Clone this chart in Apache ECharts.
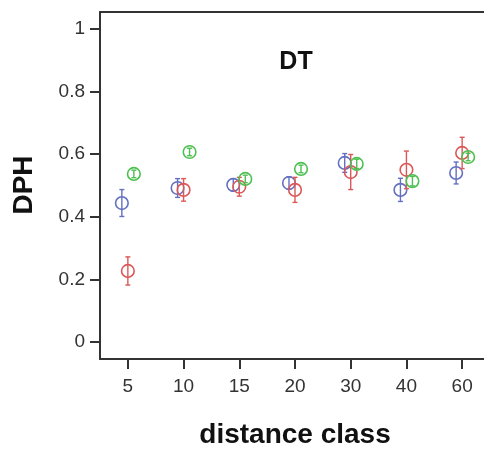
<!DOCTYPE html>
<html>
<head>
<meta charset="utf-8">
<script src="https://cdn.jsdelivr.net/npm/echarts@6/dist/echarts.min.js"></script>
<style>
  html, body { margin: 0; padding: 0; background: #fff; }
  #chart { width: 484px; height: 450px; }
</style>
</head>
<body>
<div id="chart"></div>
<script>
// Distance classes on the x axis
const categories = ['5', '10', '15', '20', '30', '40', '60'];
const yTicks = [0, 0.2, 0.4, 0.6, 0.8, 1];

// Mean DPH per group and the half-length of each error bar
const blueMean  = [0.444, 0.492, 0.502, 0.508, 0.572, 0.486, 0.540];
const blueErr   = [0.043, 0.030, 0.020, 0.020, 0.030, 0.037, 0.035];
const redMean   = [0.227, 0.486, 0.496, 0.486, 0.543, 0.550, 0.604];
const redErr    = [0.045, 0.036, 0.030, 0.040, 0.056, 0.060, 0.050];
const greenMean = [0.537, 0.607, 0.521, 0.553, 0.569, 0.514, 0.591];
const greenErr  = [0.012, 0.012, 0.012, 0.012, 0.015, 0.015, 0.012];

const groups = [
  { name: 'blue',  mean: blueMean,  err: blueErr,  color: '#6470c0', dx: -6 },
  { name: 'red',   mean: redMean,   err: redErr,   color: '#dc5858', dx: 0 },
  { name: 'green', mean: greenMean, err: greenErr, color: '#4cc050', dx: 6 }
];

function makeSeries(g) {
  return {
    type: 'custom',
    name: g.name,
    clip: false,
    data: g.mean.map((m, i) => [i, m, g.err[i]]),
    renderItem: function (params, api) {
      const i = api.value(0), m = api.value(1), e = api.value(2);
      const c = api.coord([i, m]);
      const lo = api.coord([i, m - e]);
      const hi = api.coord([i, m + e]);
      const x = c[0] + g.dx;
      const style = { stroke: g.color, lineWidth: 1.4, fill: null };
      return {
        type: 'group',
        children: [
          { type: 'line', shape: { x1: x, y1: lo[1], x2: x, y2: hi[1] }, style: style },
          { type: 'line', shape: { x1: x - 2.5, y1: lo[1], x2: x + 2.5, y2: lo[1] }, style: style },
          { type: 'line', shape: { x1: x - 2.5, y1: hi[1], x2: x + 2.5, y2: hi[1] }, style: style },
          { type: 'circle', shape: { cx: x, cy: c[1], r: 6.3 }, style: { stroke: g.color, lineWidth: 1.6, fill: 'rgba(255,255,255,0)' } }
        ]
      };
    }
  };
}

const axisColor = '#333';
const chart = echarts.init(document.getElementById('chart'));
chart.setOption({
  animation: false,
  backgroundColor: '#fff',
  title: {
    text: 'DT',
    left: 291,
    top: 45,
    textAlign: 'center',
    textStyle: { fontFamily: 'Liberation Sans', fontSize: 25, fontWeight: 'bold', color: '#111' }
  },
  grid: {
    left: 100, top: 12, width: 390, bottom: 91,
    outerBoundsMode: 'none',
    containLabel: false,
    show: false
  },
  xAxis: [
    {
      type: 'category',
      data: categories,
      boundaryGap: true,
      position: 'bottom',
      axisLine: { show: true, onZero: false, lineStyle: { color: axisColor, width: 2 } },
      axisTick: { show: true, interval: 0, alignWithLabel: true, length: 10, lineStyle: { color: axisColor, width: 2 } },
      axisLabel: { show: true, interval: 0, margin: 18, fontFamily: 'Liberation Sans', fontSize: 19, color: '#333' },
      splitLine: { show: false }
    },
    {
      // plain frame line along the top edge
      type: 'category',
      data: categories,
      position: 'top',
      axisLine: { show: true, onZero: false, lineStyle: { color: axisColor, width: 2 } },
      axisTick: { show: false },
      axisLabel: { show: false },
      splitLine: { show: false }
    }
  ],
  yAxis: {
    type: 'value',
    min: -0.0543,
    max: 1.0543,
    axisLine: { show: true, onZero: false, lineStyle: { color: axisColor, width: 2 } },
    axisTick: { show: true, length: 10, customValues: yTicks, lineStyle: { color: axisColor, width: 2 } },
    axisLabel: {
      margin: 15, fontFamily: 'Liberation Sans', fontSize: 19, color: '#333',
      customValues: yTicks,
      formatter: v => String(Math.round(v * 10) / 10)
    },
    splitLine: { show: false }
  },
  graphic: [
    {
      type: 'text', x: 24, y: 185, rotation: Math.PI / 2,
      style: { text: 'DPH', font: 'bold 28px "Liberation Sans"', fill: '#111', align: 'center', verticalAlign: 'middle' }
    },
    {
      type: 'text', x: 295, y: 435,
      style: { text: 'distance class', font: 'bold 28px "Liberation Sans"', fill: '#111', align: 'center', verticalAlign: 'middle' }
    }
  ],
  series: groups.map(makeSeries)
});
</script>
</body>
</html>
